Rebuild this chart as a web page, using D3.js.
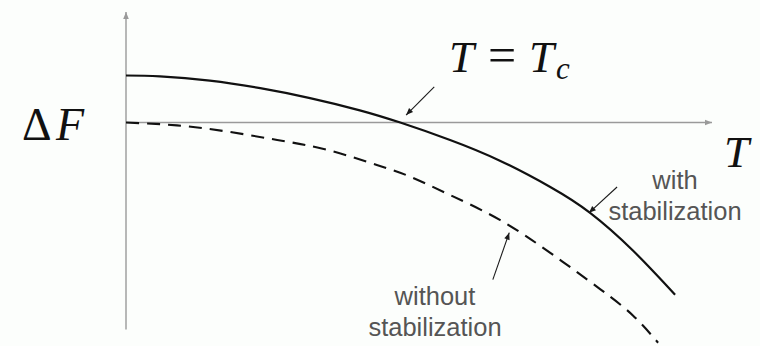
<!DOCTYPE html>
<html>
<head>
<meta charset="utf-8">
<script src="https://cdn.jsdelivr.net/npm/d3@7/dist/d3.min.js"></script>
<style>
  html, body { margin: 0; padding: 0; background: #fcfefc; }
  svg { display: block; }
</style>
</head>
<body>
<svg id="chart" width="760" height="346"></svg>
<script>
// Free-energy difference ΔF versus temperature T (schematic units)
const temperature   = [0, 0.58, 1.43, 2.29, 3.14, 3.99, 4.68, 5.53, 6.38, 7.24, 7.92, 8.65, 9.37];
const withStab      = [1.0, 0.98, 0.89, 0.73, 0.52, 0.26, 0.0, -0.37, -0.81, -1.37, -1.92, -2.72, -3.66];

const temperatureNo = [0, 0.87, 1.72, 2.58, 3.43, 4.28, 4.85, 5.53, 6.38, 7.24, 8.09, 8.65, 9.08];
const withoutStab   = [0, -0.06, -0.19, -0.37, -0.58, -0.90, -1.15, -1.54, -2.07, -2.77, -3.54, -4.10, -4.68];

// axis extents (data units)
const tAxis = [0, 10];
const fAxis = [-4.4, 2.35];

// annotation arrows: [tailT, tailF, headT, headF]
const arrowTc      = [5.26, 0.76, 4.78, 0.16];
const arrowWith    = [8.38, -1.37, 7.90, -1.92];
const arrowWithout = [6.26, -3.34, 6.54, -2.34];

const svg = d3.select("#chart");

const x = d3.scaleLinear().domain([0, 10]).range([126, 712]);
const y = d3.scaleLinear().domain([-4.75, 2.35]).range([346, 12]);

const defs = svg.append("defs");
defs.append("marker")
  .attr("id", "axisHead").attr("viewBox", "0 0 10 10")
  .attr("refX", 10).attr("refY", 5)
  .attr("markerWidth", 9).attr("markerHeight", 7)
  .attr("markerUnits", "userSpaceOnUse")
  .attr("orient", "auto")
  .append("path").attr("d", "M0,1 L10,5 L0,9 Z").attr("fill", "#9a9a9a");
defs.append("marker")
  .attr("id", "noteHead").attr("viewBox", "0 0 10 10")
  .attr("refX", 10).attr("refY", 5)
  .attr("markerWidth", 8).attr("markerHeight", 7)
  .attr("markerUnits", "userSpaceOnUse")
  .attr("orient", "auto")
  .append("path").attr("d", "M0,1 L10,5 L0,9 Z").attr("fill", "#1a1a1a");

// axes
svg.append("line")
  .attr("x1", x(0)).attr("y1", y(fAxis[0]))
  .attr("x2", x(0)).attr("y2", y(fAxis[1]))
  .attr("stroke", "#9a9a9a").attr("stroke-width", 1.4)
  .attr("marker-end", "url(#axisHead)");
svg.append("line")
  .attr("x1", x(tAxis[0])).attr("y1", y(0))
  .attr("x2", x(tAxis[1])).attr("y2", y(0))
  .attr("stroke", "#9a9a9a").attr("stroke-width", 1.4)
  .attr("marker-end", "url(#axisHead)");

// curves
const line = d3.line().x(d => x(d[0])).y(d => y(d[1])).curve(d3.curveNatural);

svg.append("path")
  .datum(d3.zip(temperatureNo, withoutStab))
  .attr("d", line)
  .attr("fill", "none").attr("stroke", "#111").attr("stroke-width", 2.1)
  .attr("stroke-dasharray", "13,8");

svg.append("path")
  .datum(d3.zip(temperature, withStab))
  .attr("d", line)
  .attr("fill", "none").attr("stroke", "#111").attr("stroke-width", 2.2);

// annotation arrows
[arrowTc, arrowWith, arrowWithout].forEach(a => {
  svg.append("line")
    .attr("x1", x(a[0])).attr("y1", y(a[1]))
    .attr("x2", x(a[2])).attr("y2", y(a[3]))
    .attr("stroke", "#1a1a1a").attr("stroke-width", 1.1)
    .attr("marker-end", "url(#noteHead)");
});

// math labels
const serif = "'Liberation Serif', 'DejaVu Serif', serif";

const dF = svg.append("text")
  .attr("y", 140)
  .attr("font-family", serif).attr("font-size", 46).attr("fill", "#111");
dF.append("tspan").attr("x", 22).text("Δ");
dF.append("tspan").attr("x", 56).attr("font-style", "italic").text("F");

const tc = svg.append("text")
  .attr("y", 72)
  .attr("font-family", serif).attr("font-size", 45).attr("fill", "#111");
tc.append("tspan").attr("x", 449).attr("font-style", "italic").text("T");
tc.append("tspan").attr("x", 488).attr("font-size", 50).text("=");
tc.append("tspan").attr("x", 529).attr("font-style", "italic").text("T");
tc.append("tspan").attr("x", 556).attr("font-style", "italic").attr("font-size", 31).attr("dy", 7).text("c");

svg.append("text")
  .attr("x", 724).attr("y", 167)
  .attr("font-family", serif).attr("font-size", 45).attr("font-style", "italic")
  .attr("fill", "#111").text("T");

// curve captions
const sans = "'Liberation Sans', Arial, Helvetica, sans-serif";
const caption = (cx, cy, lines) => {
  const t = svg.append("text")
    .attr("font-family", sans).attr("font-size", 25.5)
    .attr("fill", "#555").attr("text-anchor", "middle");
  lines.forEach((s, i) => {
    t.append("tspan").attr("x", cx).attr("y", cy + i * 31).text(s);
  });
};
caption(675, 189, ["with", "stabilization"]);
caption(435, 305, ["without", "stabilization"]);
</script>
</body>
</html>
